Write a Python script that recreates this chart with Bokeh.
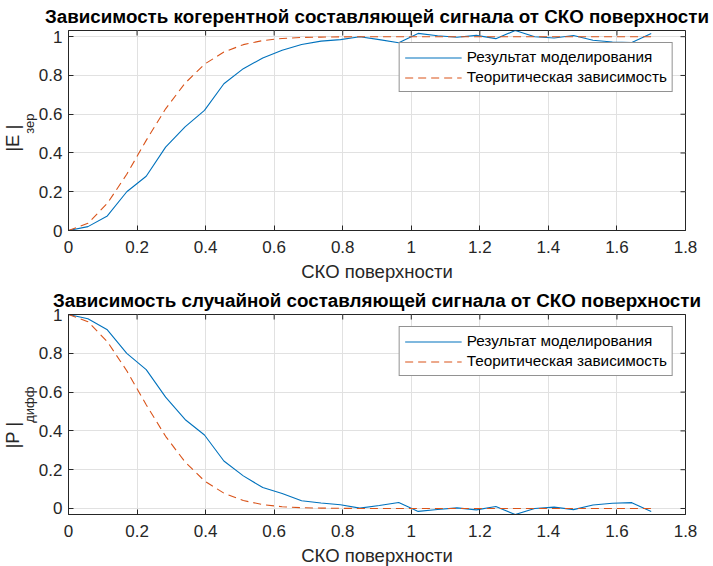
import math
from bokeh.plotting import figure
from bokeh.models import Legend, LegendItem, FixedTicker, Range1d, Title
from bokeh.layouts import column
from bokeh.embed import file_html
from bokeh.resources import INLINE

# Surface RMS height (СКО поверхности)
sigma = [0, 0.0567, 0.1133, 0.17, 0.2267, 0.2833, 0.34, 0.3967, 0.4533, 0.51,
         0.5667, 0.6233, 0.68, 0.7367, 0.7933, 0.85, 0.9067, 0.9633, 1.02, 1.0767,
         1.1333, 1.19, 1.2467, 1.3033, 1.36, 1.4167, 1.4733, 1.53, 1.5867, 1.6433, 1.7]

# Coherent component: simulation and theory
coh_sim = [0, 0.02, 0.075, 0.2, 0.28, 0.43, 0.535, 0.62, 0.757, 0.835,
           0.89, 0.93, 0.96, 0.977, 0.985, 1.0, 0.985, 0.969, 1.017, 1.005,
           0.997, 1.007, 0.99, 1.032, 1.0, 0.993, 1.006, 0.982, 0.973, 0.97, 1.016]
coh_theory = [0, 0.037, 0.14, 0.29, 0.465, 0.628, 0.76, 0.858, 0.921, 0.959,
              0.98, 0.991, 0.996, 0.998, 0.999, 1, 1, 1, 1, 1,
              1, 1, 1, 1, 1, 1, 1, 1, 1, 1, 1]

# Diffuse (random) component: simulation and theory
dif_sim = [1.0, 0.978, 0.921, 0.8, 0.716, 0.574, 0.459, 0.379, 0.245, 0.168,
           0.108, 0.077, 0.04, 0.028, 0.019, 0.002, 0.015, 0.031, -0.015, -0.005,
           0.003, -0.007, 0.01, -0.031, 0.0, 0.007, -0.006, 0.018, 0.027, 0.03, -0.016]
dif_theory = [1, 0.963, 0.86, 0.71, 0.535, 0.372, 0.24, 0.142, 0.079, 0.041,
              0.02, 0.009, 0.004, 0.002, 0.001, 0, 0, 0, 0, 0,
              0, 0, 0, 0, 0, 0, 0, 0, 0, 0, 0]

x_ticks = [0, 0.2, 0.4, 0.6, 0.8, 1, 1.2, 1.4, 1.6, 1.8]
x_tick_labels = ["0", "0.2", "0.4", "0.6", "0.8", "1", "1.2", "1.4", "1.6", "1.8"]
y_ticks = [0, 0.2, 0.4, 0.6, 0.8, 1]
y_tick_labels = ["0", "0.2", "0.4", "0.6", "0.8", "1"]

title_top = "Зависимость когерентной составляющей сигнала от СКО поверхности"
title_bottom = "Зависимость случайной составляющей сигнала от СКО поверхности"
x_label = "СКО поверхности"
legend_labels = ["Результат моделирования", "Теоритическая зависимость"]

FONT = "Liberation Sans"
AX = "#262626"
BLUE = "#0072BD"
ORANGE = "#D95319"
FW, FH = 617, 200
X_MAX = 1.8


def style_axis(ax, ticks, labels):
    ax.ticker = FixedTicker(ticks=ticks)
    ax.major_label_overrides = {t: l for t, l in zip(ticks, labels)}
    ax.minor_tick_line_color = None
    ax.major_tick_in = 5
    ax.major_tick_out = 0
    ax.major_tick_line_color = AX
    ax.axis_line_color = AX
    ax.major_label_text_font = FONT
    ax.major_label_text_color = AX
    ax.major_label_text_font_size = "17px"


def make_panel(sim, theory, title, main_label, sub_label, sub_top):
    y_lo, y_hi = min(sim), max(sim)
    p = figure(frame_width=FW, frame_height=FH, output_backend="svg",
               toolbar_location=None, min_border_left=68, min_border_right=28,
               min_border_top=30, min_border_bottom=53,
               x_range=Range1d(0, X_MAX), y_range=Range1d(y_lo, y_hi))
    p.background_fill_color = "white"
    p.border_fill_color = "white"
    p.outline_line_color = AX
    p.outline_line_width = 1

    # plot title
    p.title.text = title
    p.title.align = "center"
    p.title.vertical_align = "top"
    p.title.text_font = FONT
    p.title.text_font_style = "bold"
    p.title.text_font_size = "18.8px"
    p.title.text_color = "#000000"
    p.title.standoff = 4

    style_axis(p.xaxis[0], x_ticks, x_tick_labels)
    style_axis(p.yaxis[0], y_ticks, y_tick_labels)
    p.xaxis[0].major_label_standoff = 10
    p.yaxis[0].major_label_standoff = 6
    p.xaxis[0].axis_label = x_label
    p.xaxis[0].axis_label_text_font = FONT
    p.xaxis[0].axis_label_text_font_style = "normal"
    p.xaxis[0].axis_label_text_font_size = "18.5px"
    p.xaxis[0].axis_label_text_color = AX
    p.xaxis[0].axis_label_standoff = 5

    # y label: subscript column next to the axis, main text further out
    p.add_layout(Title(text=sub_label, align="right", offset=sub_top,
                       text_font=FONT, text_font_style="normal",
                       text_font_size="13px", text_color=AX, standoff=-2), "left")
    p.add_layout(Title(text=main_label, align="center",
                       text_font=FONT, text_font_style="normal",
                       text_font_size="18.5px", text_color=AX, standoff=-4), "left")

    p.xgrid.ticker = FixedTicker(ticks=x_ticks)
    p.ygrid.ticker = FixedTicker(ticks=y_ticks)
    p.grid.grid_line_color = "#e1e1e1"
    p.grid.grid_line_width = 1

    # inward tick marks on the top and right edges of the box
    p.scatter(x=x_ticks, y=[y_hi] * len(x_ticks), marker="dash", size=10,
              angle=math.pi / 2, line_color=AX, line_width=1)
    p.scatter(x=[X_MAX] * len(y_ticks), y=y_ticks, marker="dash", size=10,
              line_color=AX, line_width=1)

    r1 = p.line(sigma, sim, line_color=BLUE, line_width=1.1)
    r2 = p.line(sigma, theory, line_color=ORANGE, line_width=1.1, line_dash="8 5")

    legend = Legend(items=[LegendItem(label=legend_labels[0], renderers=[r1]),
                           LegendItem(label=legend_labels[1], renderers=[r2])],
                    location="top_right", margin=12, padding=5, spacing=2,
                    glyph_width=57, glyph_height=17, label_height=17,
                    label_standoff=5, label_text_font=FONT,
                    label_text_font_size="15.3px", label_text_color="#000000",
                    border_line_color=AX, border_line_width=1,
                    background_fill_color="white", background_fill_alpha=1)
    p.add_layout(legend, "center")
    return p


p1 = make_panel(coh_sim, coh_theory, title_top, "|E    |", "зер", 83)
p2 = make_panel(dif_sim, dif_theory, title_bottom, "|P         |", "дифф", 72)

layout = column(p1, p2, spacing=0)
open("out.html", "w").write(file_html(layout, INLINE))
